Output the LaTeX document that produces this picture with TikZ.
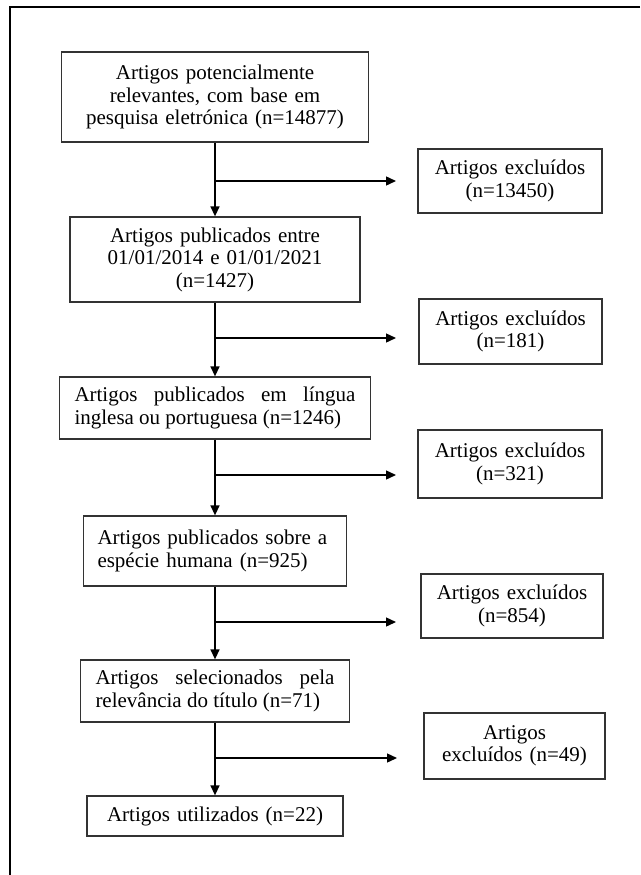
\documentclass[tikz,border=0pt]{standalone}
\usepackage{fontspec}
\setmainfont{Liberation Serif}
\usetikzlibrary{arrows.meta}
\tolerance=10000
\hyphenpenalty=10000

\begin{document}
\begin{tikzpicture}
        [x=1pt,y=-1pt,
        box/.style={draw=black!80,line width=1.3pt,inner xsep=4pt,inner ysep=2pt,
            font=\fontsize{21}{22.5}\selectfont,align=center},
        jbox/.style={box,align=justify},
        arr/.style={line width=1.4pt,-{Triangle[length=10pt,width=9pt]}}]

        \useasboundingbox (0,0) rectangle (640,875);
        \draw[line width=2pt] (640,7) -- (10,7) -- (10,875);

        \node[box,text width=290pt,minimum width=307pt,minimum height=90pt] (a1) at (215,97)
            {Artigos potencialmente\\ relevantes, com base em\\ pesquisa eletrónica (n=14877)};
        \node[box,text width=280pt,minimum width=290pt,minimum height=85pt] (a2) at (215,259.5)
            {Artigos publicados entre\\ 01/01/2014 e 01/01/2021\\ (n=1427)};
        \node[jbox,text width=281pt,minimum width=311pt,minimum height=62pt] (a3) at (215,408)
            {Artigos publicados em língua inglesa ou portuguesa (n=1246)};
        \node[box,align=left,text width=235pt,minimum width=263pt,minimum height=70pt] (a4) at (215,551)
            {Artigos publicados sobre a\\ espécie humana (n=925)};
        \node[jbox,text width=239pt,minimum width=269pt,minimum height=62pt] (a5) at (215,691)
            {Artigos selecionados pela relevância do título (n=71)};
        \node[box,text width=240pt,minimum width=256pt,minimum height=40pt] (a6) at (215,816)
            {Artigos utilizados (n=22)};

        \node[box,text width=170pt,minimum width=184pt,minimum height=64pt] (e1) at (510,181)
            {Artigos excluídos\\ (n=13450)};
        \node[box,text width=170pt,minimum width=183pt,minimum height=65pt] (e2) at (510.5,331.5)
            {Artigos excluídos\\ (n=181)};
        \node[box,text width=170pt,minimum width=184pt,minimum height=68pt] (e3) at (510,464)
            {Artigos excluídos\\ (n=321)};
        \node[box,text width=170pt,minimum width=182pt,minimum height=64pt] (e4) at (512,606)
            {Artigos excluídos\\ (n=854)};
        \node[box,text width=170pt,minimum width=181pt,minimum height=66pt] (e5) at (514.5,746)
            {Artigos\\ excluídos (n=49)};

        \coordinate (t1) at (396,181);
        \coordinate (t2) at (396,338);
        \coordinate (t3) at (396,475);
        \coordinate (t4) at (396,622);
        \coordinate (t5) at (397,758);

        \draw[arr] (a1) -- (a2);
        \draw[arr] (a2) -- (a3);
        \draw[arr] (a3) -- (a4);
        \draw[arr] (a4) -- (a5);
        \draw[arr] (a5) -- (a6);

        \draw[arr] (a1.south |- t1) -- (t1);
        \draw[arr] (a2.south |- t2) -- (t2);
        \draw[arr] (a3.south |- t3) -- (t3);
        \draw[arr] (a4.south |- t4) -- (t4);
        \draw[arr] (a5.south |- t5) -- (t5);
    \end{tikzpicture}
\end{document}
